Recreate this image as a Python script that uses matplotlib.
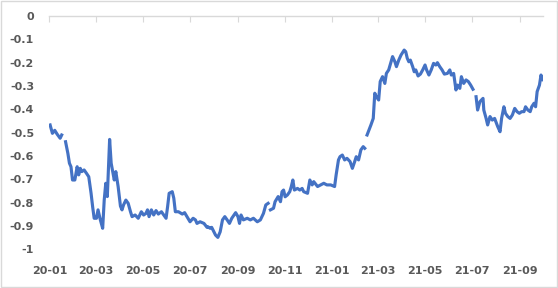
import numpy as np
import pandas as pd
import matplotlib
matplotlib.use("Agg")
import matplotlib.pyplot as plt
from matplotlib.patches import Rectangle

###############################################################################
# Data: days since 2020-01-01 and the value (nan = gap)
###############################################################################
day_offset = [
    1, 4, 7, 10, 14, 16, 18, 21, 24, 26, 28, 30, 33, 36, 38, 40, 42, 45, 48, 51,
    54, 56, 58, 61, 63, 66, 69, 71, 73, 75, 78, 80, 82, 84, 86, 89, 92, 94, 96, 99,
    102, 105, 107, 111, 115, 119, 122, 125, 127, 129, 132, 135, 138, 141, 145, 148,
    151, 153, 155, 159, 161, 163, 167, 172, 175, 178, 182, 186, 189, 191, 195, 200,
    204, 205, 208, 210, 215, 218, 221, 224, 227, 230, 233, 236, 241, 244, 246, 248,
    251, 256, 260, 264, 269, 273, 277, 280, 283, 285, 286, 290, 292, 296, 299, 301,
    303, 305, 308, 311, 313, 315, 317, 321, 324, 327, 329, 334, 337, 340, 342, 347,
    351, 355, 359, 364, 369, 371, 374, 376, 379, 382, 385, 389, 392, 395, 397, 400,
    403, 406, 408, 410, 411, 416, 419, 421, 423, 426, 428, 431, 434, 436, 439, 444,
    447, 449, 452, 455, 459, 461, 463, 465, 467, 470, 472, 474, 477, 480, 483, 486,
    488, 491, 494, 497, 500, 502, 505, 508, 511, 515, 518, 520, 523, 526, 528, 531,
    533, 536, 539, 542, 545, 548, 550, 552, 554, 557, 561, 562, 565, 567, 570, 573,
    576, 580, 583, 585, 588, 590, 593, 596, 599, 602, 605, 608, 611, 614, 616, 619,
    622, 624, 627, 629, 631, 634, 636, 638, 639,
]

values = [
    -0.467, -0.503, -0.490, -0.506, -0.524, -0.510, np.nan, -0.539, -0.589, -0.631,
    -0.646, -0.703, -0.703, -0.646, -0.681, -0.653, -0.667, -0.660, -0.674, -0.689,
    -0.760, -0.817, -0.867, -0.867, -0.831, -0.874, -0.910, -0.789, -0.717, -0.774,
    -0.529, -0.631, -0.667, -0.703, -0.667, -0.731, -0.815, -0.831, -0.810, -0.789,
    -0.803, -0.839, -0.860, -0.853, -0.867, -0.839, -0.853, -0.846, -0.831, -0.860,
    -0.831, -0.853, -0.834, -0.849, -0.839, -0.853, -0.867, -0.817, -0.760, -0.753,
    -0.781, -0.839, -0.839, -0.849, -0.843, -0.860, -0.882, -0.867, -0.874, -0.889,
    -0.882, -0.889, -0.906, -0.903, -0.910, -0.906, -0.939, -0.949, -0.925, -0.874,
    -0.860, -0.874, -0.889, -0.867, -0.843, -0.860, -0.889, -0.853, -0.874, -0.867,
    -0.874, -0.867, -0.882, -0.874, -0.846, -0.810, -0.803, np.nan, -0.831, -0.824,
    -0.796, -0.774, -0.796, -0.753, -0.746, -0.775, -0.767, -0.753, -0.731, -0.703,
    -0.746, -0.739, -0.746, -0.739, -0.753, -0.760, -0.703, -0.724, -0.710, -0.731,
    -0.724, -0.717, -0.724, -0.724, -0.731, -0.681, -0.617, -0.603, -0.596, -0.617,
    -0.610, -0.624, -0.653, -0.624, -0.603, -0.617, -0.574, -0.560, -0.567, np.nan,
    -0.510, -0.467, -0.439, -0.331, -0.346, -0.360, -0.281, -0.260, -0.289, -0.246,
    -0.231, -0.174, -0.196, -0.217, -0.189, -0.167, -0.146, -0.153, -0.181, -0.196,
    -0.189, -0.217, -0.239, -0.231, -0.257, -0.249, -0.231, -0.210, -0.231, -0.253,
    -0.231, -0.203, -0.210, -0.200, -0.217, -0.231, -0.249, -0.246, -0.231, -0.253,
    -0.246, -0.317, -0.296, -0.310, -0.260, -0.289, -0.274, -0.281, -0.296, -0.314,
    np.nan, -0.346, -0.403, -0.367, -0.353, -0.403, -0.439, -0.467, -0.431, -0.446,
    -0.439, -0.474, -0.496, -0.439, -0.389, -0.417, -0.431, -0.439, -0.424, -0.396,
    -0.410, -0.417, -0.410, -0.410, -0.389, -0.403, -0.410, -0.389, -0.374, -0.389,
    -0.324, -0.296, -0.253, -0.274, -0.267,
]

tick_labels = ["20-01", "20-03", "20-05", "20-07", "20-09", "20-11",
               "21-01", "21-03", "21-05", "21-07", "21-09"]
y_ticks = [0, -0.1, -0.2, -0.3, -0.4, -0.5, -0.6, -0.7, -0.8, -0.9, -1]

start = pd.Timestamp("2020-01-01")
dates = start + pd.to_timedelta(day_offset, unit="D")
tick_dates = [pd.Timestamp("20" + t[:2] + "-" + t[3:] + "-01") for t in tick_labels]

###############################################################################
# Plot
###############################################################################
text_color = "#595959"
grid_color = "#d9d9d9"

fig = plt.figure(figsize=(5.58, 2.88), dpi=100)
ax = fig.add_axes([0.0884, 0.1344, 0.8853, 0.81])

ax.plot(dates, values, color="#4472C4", linewidth=2.25, solid_joinstyle="round")

ax.set_ylim(-1, 0)
ax.set_xlim(start, pd.Timestamp("2021-10-01"))

ax.set_yticks(y_ticks)
ax.set_yticklabels(["0" if v == 0 else "-1" if v == -1 else f"{v:.1f}" for v in y_ticks])
ax.set_xticks(tick_dates)
ax.set_xticklabels(tick_labels)

for s in ["left", "right", "bottom"]:
    ax.spines[s].set_visible(False)
ax.spines["top"].set_color(grid_color)
ax.spines["top"].set_linewidth(1)

# ticks on the zero line at the top, labels at the bottom
ax.tick_params(axis="x", top=True, bottom=False, labeltop=False, labelbottom=True,
               direction="in", length=4, color=grid_color, pad=12,
               labelsize=8, labelcolor=text_color)
ax.tick_params(axis="y", left=False, length=0, pad=11,
               labelsize=8, labelcolor=text_color)
for lab in ax.get_xticklabels() + ax.get_yticklabels():
    lab.set_fontweight("bold")

# light border round the chart area
fig.patches.append(Rectangle((0.001, 0.002), 0.997, 0.995, transform=fig.transFigure,
                             fill=False, edgecolor=grid_color, linewidth=1))

fig.savefig("out.png", dpi=100)
